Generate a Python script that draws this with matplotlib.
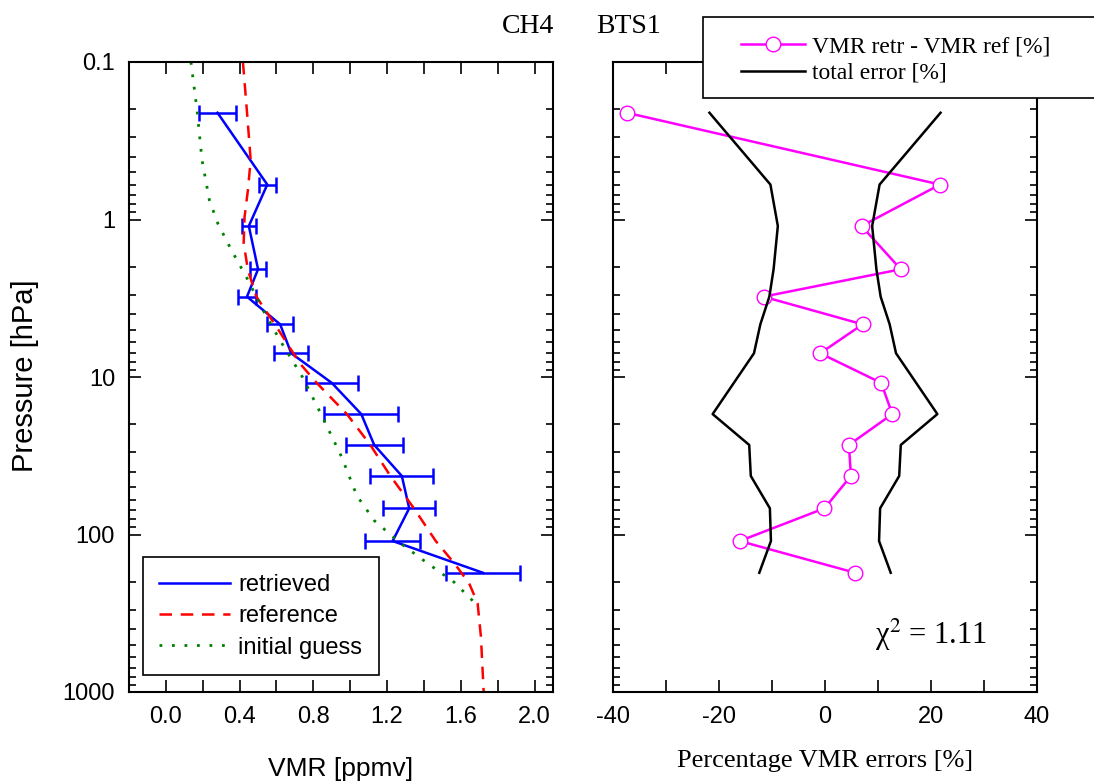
import numpy as np
import matplotlib
matplotlib.use('Agg')
import matplotlib.pyplot as plt
from matplotlib.ticker import MultipleLocator, LogLocator, FuncFormatter, NullFormatter
from matplotlib.patches import Rectangle

# retrieval levels (hPa)
pressure = [0.21, 0.60, 1.10, 2.07, 3.09, 4.63, 7.07, 10.9, 17.2, 27.0, 42.5, 68.2, 110, 175]
vmr_retr = [0.28, 0.55, 0.45, 0.50, 0.44, 0.62, 0.68, 0.90, 1.06, 1.13, 1.28, 1.32, 1.23, 1.72]
vmr_retr_err = [0.10, 0.045, 0.037, 0.045, 0.05, 0.071, 0.093, 0.14, 0.20, 0.155, 0.17, 0.14, 0.15, 0.20]

# reference profile
ref_p = [0.1, 0.222, 0.419, 0.65, 0.96, 1.41, 2.09, 3.09, 4.8, 8.2, 10.9, 17.2, 27, 42.5,
         68, 110, 152, 204, 273, 445, 1000]
ref_vmr = [0.418, 0.442, 0.46, 0.445, 0.427, 0.422, 0.445, 0.491, 0.60, 0.727, 0.818, 0.982,
           1.109, 1.218, 1.345, 1.464, 1.564, 1.645, 1.691, 1.709, 1.724]

# initial guess profile
guess_p = [0.1, 0.202, 0.419, 0.752, 1.06, 1.56, 2.31, 3.76, 5.82, 10.05, 18.1, 32.1, 56.7,
           81.7, 113.7, 151, 201, 290]
guess_vmr = [0.136, 0.169, 0.196, 0.236, 0.282, 0.355, 0.436, 0.527, 0.618, 0.742, 0.851,
             0.953, 1.036, 1.131, 1.273, 1.415, 1.564, 1.70]

# percentage errors
diff_pct = [-37.4, 21.7, 6.9, 14.3, -11.6, 7.1, -0.9, 10.6, 12.7, 4.5, 4.9, -0.1, -16.1, 5.7]
total_err = [21.8, 10.3, 8.9, 9.7, 10.5, 12.2, 13.4, 17.2, 21.2, 14.3, 14.0, 10.4, 10.2, 12.4]

plt.rcParams['font.family'] = 'Liberation Sans'
plt.rcParams['mathtext.fontset'] = 'stix'
plt.rcParams['axes.unicode_minus'] = False

W, H = 1094, 783
fig = plt.figure(figsize=(W / 100, H / 100), dpi=100)
ax1 = fig.add_axes([129 / W, 1 - 692 / H, 424 / W, 630 / H])
ax2 = fig.add_axes([613 / W, 1 - 692 / H, 424 / W, 630 / H])

# left panel: profiles
ax1.errorbar(vmr_retr, pressure, xerr=vmr_retr_err, fmt='none', ecolor='blue',
             elinewidth=1.8, capsize=5.5, capthick=1.8)
ax1.plot(vmr_retr, pressure, color='blue', lw=1.8, label='retrieved')
ax1.plot(ref_vmr, ref_p, color='red', lw=1.8, dashes=(5, 3.5), label='reference')
ax1.plot(guess_vmr, guess_p, color='green', lw=2, dashes=(1, 3.5), label='initial guess')

# right panel: errors
ax2.plot(diff_pct, pressure, color='magenta', lw=1.8, marker='o', ms=10.5,
         mfc='white', mec='magenta', mew=1, label='VMR retr - VMR ref [%]')
ax2.plot(total_err, pressure, color='black', lw=1.8, label='total error [%]')
ax2.plot(-np.array(total_err), pressure, color='black', lw=1.8)


def style_axes(ax):
    ax.set_yscale('log')
    ax.set_ylim(1000, 0.1)
    ax.yaxis.set_major_locator(LogLocator(base=10))
    ax.yaxis.set_minor_locator(LogLocator(base=10, subs=range(2, 10)))
    ax.yaxis.set_minor_formatter(NullFormatter())
    ax.tick_params(which='both', direction='in', top=True, right=True, width=1.2,
                   labelsize=17, pad=10)
    ax.tick_params(which='major', length=8.5)
    ax.tick_params(axis='y', which='minor', length=5)
    ax.tick_params(axis='x', which='minor', length=8.5)
    for s in ax.spines.values():
        s.set_linewidth(1.5)


style_axes(ax1)
style_axes(ax2)

ax1.set_xlim(-0.2, 2.1)
ax1.set_xticks([0.0, 0.4, 0.8, 1.2, 1.6, 2.0])
ax1.xaxis.set_major_formatter(FuncFormatter(lambda v, p: f'{v:.1f}'))
ax1.xaxis.set_minor_locator(MultipleLocator(0.2))
ax1.yaxis.set_major_formatter(FuncFormatter(lambda v, p: f'{v:g}'))

ax2.set_xlim(-40, 40)
ax2.xaxis.set_major_locator(MultipleLocator(20))
ax2.xaxis.set_minor_locator(MultipleLocator(10))
ax2.tick_params(axis='y', which='both', labelleft=False)

ax1.set_xlabel('VMR [ppmv]', fontsize=19)
ax1.xaxis.set_label_coords(0.5, -0.103)
ax1.set_ylabel('Pressure [hPa]', fontsize=21)
ax1.yaxis.set_label_coords(-0.212, 0.502)
ax2.set_xlabel('Percentage VMR errors [%]', fontsize=19, family='Liberation Serif')
ax2.xaxis.set_label_coords(0.5, -0.092)

leg1 = ax1.legend(loc='upper left', bbox_to_anchor=(142.7 / W, 1 - 557.3 / H),
                  bbox_transform=fig.transFigure, fontsize=17, fancybox=False,
                  edgecolor='black', framealpha=1, borderpad=0.7, labelspacing=0.4,
                  handlelength=3.0, handletextpad=0.35, borderaxespad=0)
leg1.get_frame().set_linewidth(1.2)

# legend box of the right panel runs off the figure edge
fig.add_artist(Rectangle((703 / W, 1 - 98 / H), 420 / W, 81 / H, transform=fig.transFigure,
                         facecolor='white', edgecolor='black', lw=1.2, zorder=10,
                         clip_on=False))
h, l = ax2.get_legend_handles_labels()
leg2 = fig.legend(h, l, loc='upper left', bbox_to_anchor=(741 / W, 1 - 36 / H),
                  frameon=False, prop={'family': 'Liberation Serif', 'size': 17},
                  borderpad=0, borderaxespad=0, handlelength=2.7, handletextpad=0.3,
                  labelspacing=0.2, numpoints=1)
leg2.set_zorder(11)

fig.text(501.7 / W, 1 - 33 / H, 'CH4', fontsize=20, family='Liberation Serif', va='baseline')
fig.text(596 / W, 1 - 33 / H, 'BTS1', fontsize=20, family='Liberation Serif', va='baseline')

ax2.text(0.618, 0.076, 'χ$^{2}$ = 1.11', transform=ax2.transAxes, fontsize=22,
         family='Liberation Serif', va='baseline')

fig.savefig('out.png', dpi=100)
